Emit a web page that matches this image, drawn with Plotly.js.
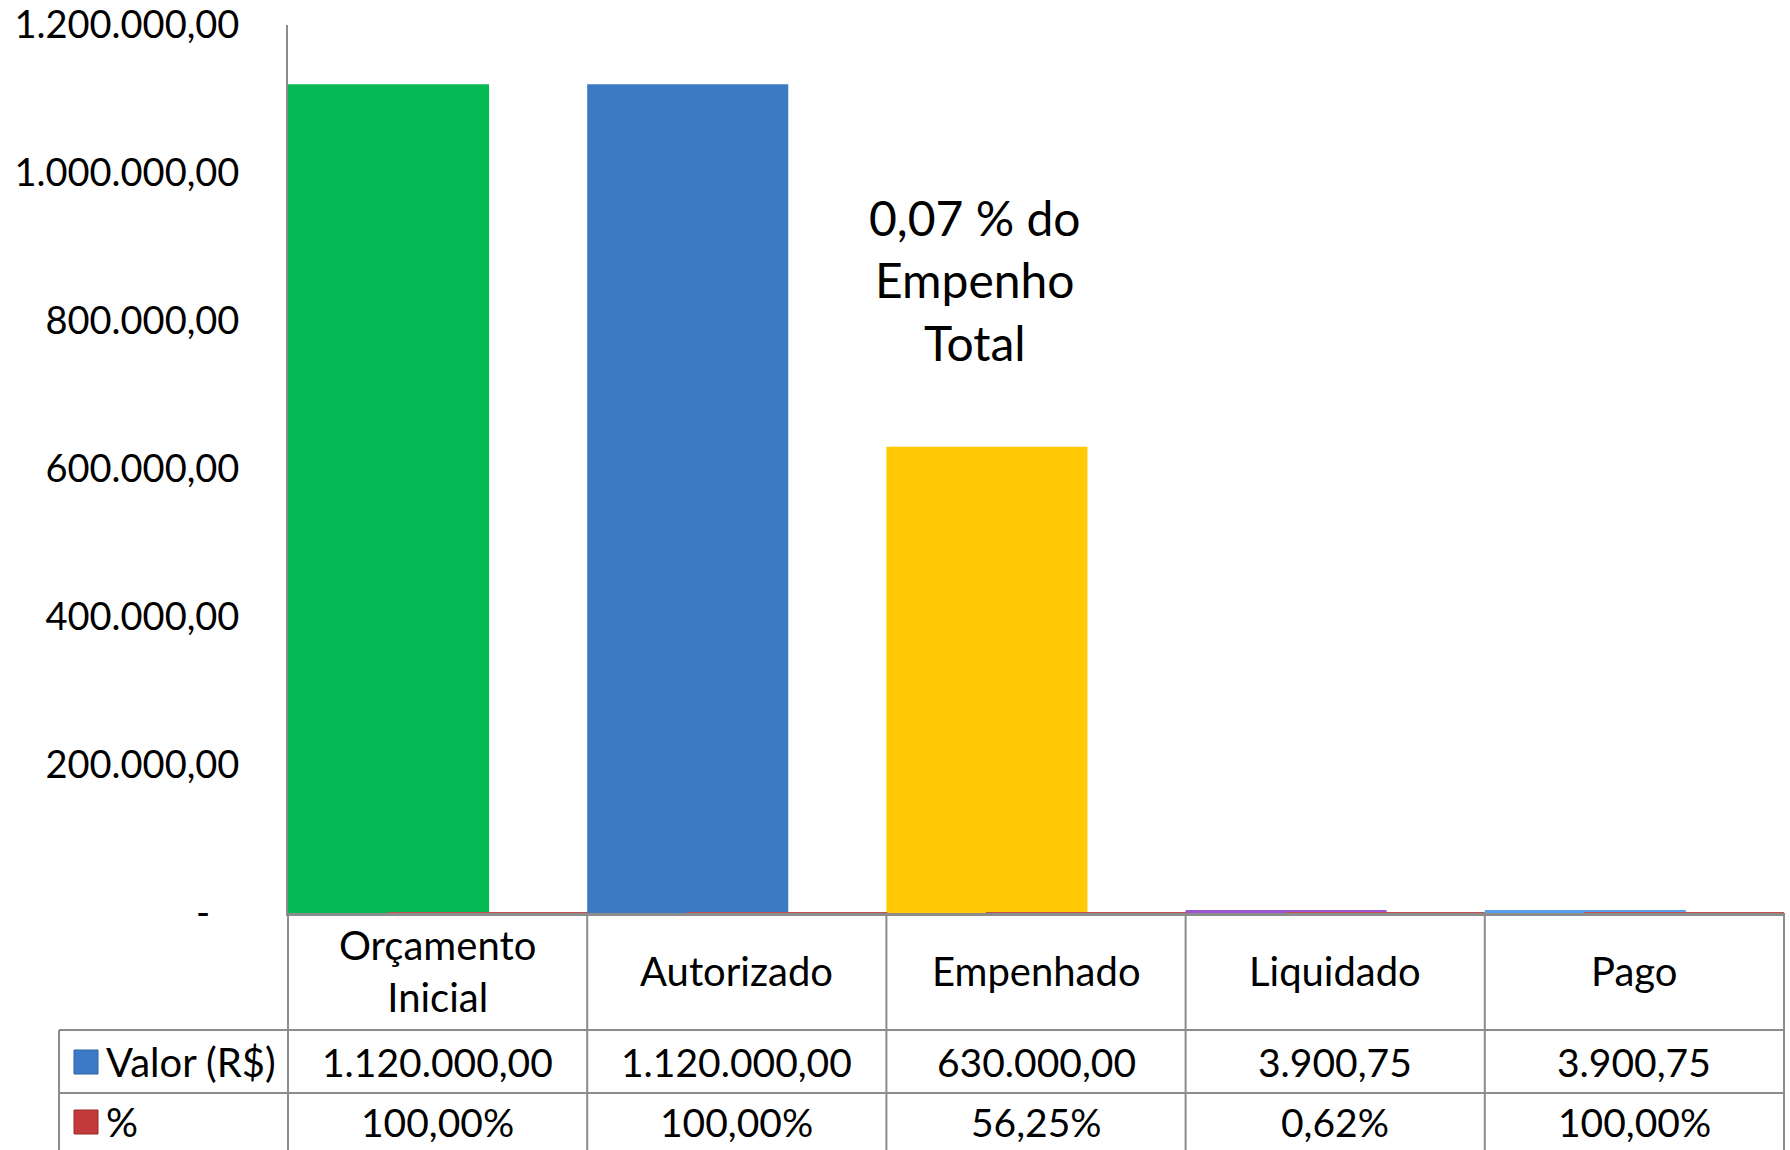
<!DOCTYPE html>
<html><head><meta charset="utf-8">
<script src="https://cdn.plot.ly/plotly-3.0.1.min.js"></script>
<style>html,body{margin:0;padding:0;background:#fff}#chart{width:1790px;height:1150px}</style>
</head><body><div id="chart"></div>
<script>
// ---- data ----
const categories = ['Orçamento Inicial', 'Autorizado', 'Empenhado', 'Liquidado', 'Pago'];
const headerLabels = ['Orçamento<br>Inicial', 'Autorizado', 'Empenhado', 'Liquidado', 'Pago'];
const valorValues = [1120000, 1120000, 630000, 3900.75, 3900.75];
const pctValues = [100, 100, 56.25, 0.62, 100];
const seriesNames = ['Valor (R$)', '%'];
const yTickVals = [0, 200000, 400000, 600000, 800000, 1000000, 1200000];
const noteText = '0,07 % do<br>Empenho<br>Total';

// ---- styles ----
const barColors = ['#05B954', '#3D7AC4', '#FFC906', '#9E55D2', '#5A9FEE'];
const pctColor = '#C0504D';
const keyColors = ['#3C79C6', '#C43A3A'];
const gridColor = '#8C8C8C';
const FONT = 'Lato, "Liberation Sans", sans-serif';

function fmtBR(v) {
  const s = Math.abs(v).toFixed(2);
  let [i, d] = s.split('.');
  i = i.replace(/\B(?=(\d{3})+(?!\d))/g, '.');
  return i + ',' + d;
}
const yTickText = yTickVals.map(v => v === 0 ? '-\u00a0\u00a0\u00a0' : fmtBR(v));

// ---- geometry (pixels of the page) ----
const W = 1790, H = 1150;
const L = 288, R = 1784, T = 25, B = 913;
const PW = R - L, PH = B - T;
const px = x => (x - L) / PW;
const py = y => (B - y) / PH;

const rowHeaderMid = 971.5, rowValorMid = 1062, rowPctMid = 1122;
const rowLine1 = 1030, rowLine2 = 1093, tableLeft = 59;

const n = categories.length;
const idx = categories.map((_, i) => i);

const traces = [
  {
    type: 'bar', name: seriesNames[0], x: idx, y: valorValues,
    marker: { color: barColors, line: { width: 0 } },
    width: 0.672, offset: -0.5, showlegend: false, hoverinfo: 'y'
  },
  {
    type: 'bar', name: seriesNames[1], x: idx, y: pctValues,
    marker: { color: pctColor, line: { color: pctColor, width: 2 } },
    width: 0.664, offset: -0.164, showlegend: false, hoverinfo: 'y'
  }
];

const annotations = [];
const tfont = { family: FONT, size: 39, color: '#000' };
idx.forEach(i => {
  annotations.push({ xref: 'x', yref: 'paper', x: i, y: py(rowHeaderMid), text: headerLabels[i],
    showarrow: false, xanchor: 'center', yanchor: 'middle', align: 'center',
    font: { family: FONT, size: 40, color: '#000' } });
  annotations.push({ xref: 'x', yref: 'paper', x: i, y: py(rowValorMid), text: fmtBR(valorValues[i]),
    showarrow: false, xanchor: 'center', yanchor: 'middle', font: tfont });
  annotations.push({ xref: 'x', yref: 'paper', x: i, y: py(rowPctMid), text: fmtBR(pctValues[i]) + '%',
    showarrow: false, xanchor: 'center', yanchor: 'middle', font: tfont });
});
[rowValorMid, rowPctMid].forEach((ym, k) => {
  annotations.push({ xref: 'paper', yref: 'paper', x: px(104), y: py(ym), text: seriesNames[k],
    showarrow: false, xanchor: 'left', yanchor: 'middle', font: { family: FONT, size: 40, color: '#000' } });
});
annotations.push({ xref: 'x', yref: 'paper', x: 1.796, y: py(280), text: noteText,
  showarrow: false, xanchor: 'center', yanchor: 'middle', align: 'center',
  font: { family: FONT, size: 48, color: '#000' } });

const shapes = [];
const lineStyle = { color: gridColor, width: 2 };
for (let k = 0; k <= n; k++) {
  shapes.push({ type: 'line', xref: 'paper', yref: 'paper', x0: k / n, x1: k / n,
    y0: py(B), y1: py(H + 5), line: lineStyle, layer: 'above' });
}
shapes.push({ type: 'line', xref: 'paper', yref: 'paper', x0: px(tableLeft), x1: px(tableLeft),
  y0: py(rowLine1), y1: py(H + 5), line: lineStyle });
[rowLine1, rowLine2].forEach(yy => {
  shapes.push({ type: 'line', xref: 'paper', yref: 'paper', x0: px(tableLeft), x1: 1,
    y0: py(yy), y1: py(yy), line: lineStyle });
});
[rowValorMid, rowPctMid].forEach((ym, k) => {
  shapes.push({ type: 'rect', xref: 'paper', yref: 'paper', x0: px(74), x1: px(98),
    y0: py(ym - 12), y1: py(ym + 12), fillcolor: keyColors[k],
    line: { color: k === 0 ? '#2F63A6' : '#9A2B2B', width: 1 } });
});

const layout = {
  width: W, height: H,
  margin: { l: L, r: W - R, t: T, b: H - B, pad: 0 },
  paper_bgcolor: '#fff', plot_bgcolor: '#fff',
  barmode: 'overlay',
  showlegend: false,
  font: { family: FONT, size: 40, color: '#000' },
  xaxis: {
    type: 'linear', range: [-0.5, n - 0.5], showline: true, linecolor: gridColor, linewidth: 3,
    showticklabels: false, ticks: '', showgrid: false, zeroline: false, fixedrange: true
  },
  yaxis: {
    range: [0, 1200000], tickvals: yTickVals, ticktext: yTickText, tickmode: 'array',
    showline: true, linecolor: gridColor, linewidth: 2, ticks: '', showgrid: false, zeroline: false,
    tickfont: { family: FONT, size: 38, color: '#000' }, ticklabelstandoff: 39, fixedrange: true
  },
  annotations: annotations,
  shapes: shapes
};

Plotly.newPlot('chart', traces, layout, { displayModeBar: false, staticPlot: true });
</script>
</body></html>
